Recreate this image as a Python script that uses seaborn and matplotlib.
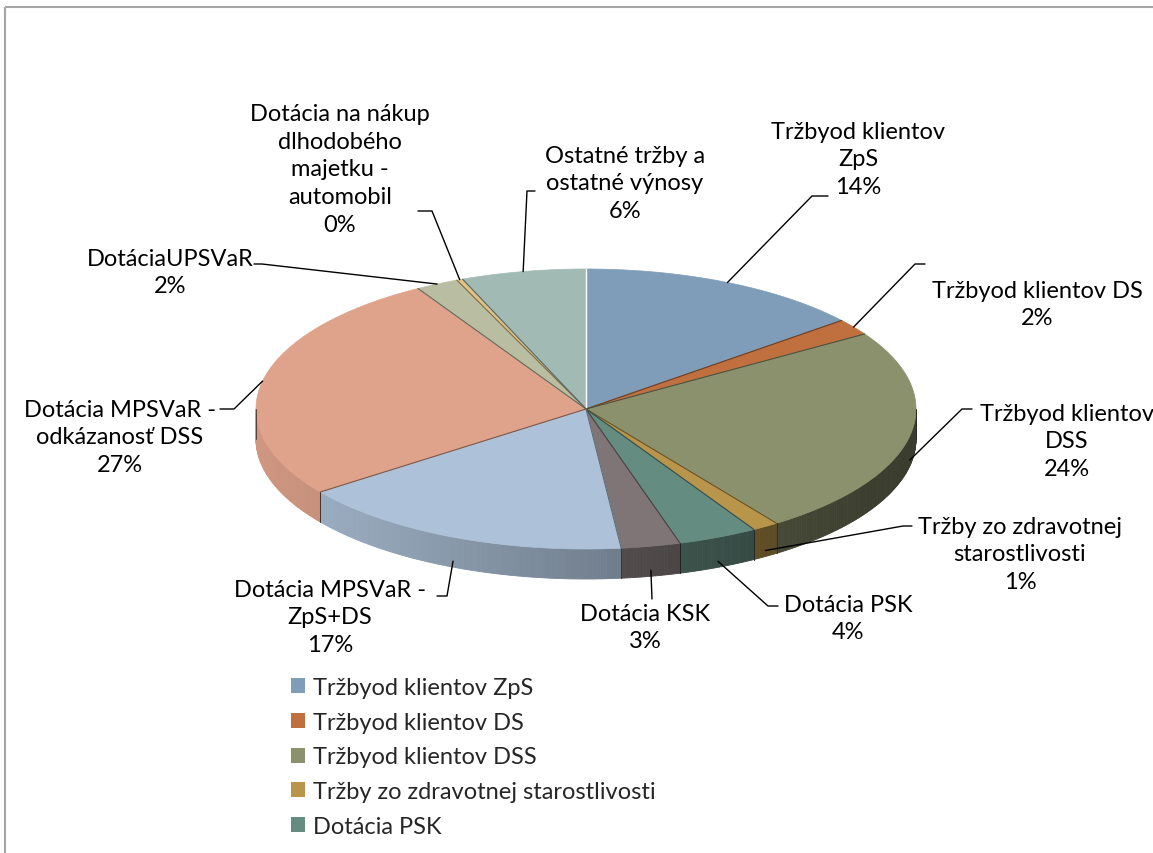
import numpy as np
import matplotlib
matplotlib.use("Agg")
import matplotlib.pyplot as plt
from matplotlib.patches import Polygon, Rectangle
import seaborn as sns

# data (share of income, %), clockwise from 12 o'clock
categories = ["Tržbyod klientov ZpS", "Tržbyod klientov DS", "Tržbyod klientov DSS",
              "Tržby zo zdravotnej starostlivosti", "Dotácia PSK", "Dotácia KSK",
              "Dotácia MPSVaR - ZpS+DS", "Dotácia MPSVaR - odkázanosť DSS",
              "DotáciaUPSVaR", "Dotácia na nákup dlhodobého majetku - automobil",
              "Ostatné tržby a ostatné výnosy"]
shares = [14.1, 1.9, 24.2, 1.3, 3.9, 2.9, 16.6, 26.6, 2.1, 0.3, 6.1]
label_names = ["Tržbyod klientov\nZpS", "Tržbyod klientov DS", "Tržbyod klientov\nDSS",
               "Tržby zo zdravotnej\nstarostlivosti", "Dotácia PSK", "Dotácia KSK",
               "Dotácia MPSVaR -\nZpS+DS", "Dotácia MPSVaR -\nodkázanosť DSS",
               "DotáciaUPSVaR", "Dotácia na nákup\ndlhodobého\nmajetku -\nautomobil",
               "Ostatné tržby a\nostatné výnosy"]
colors = ["#7F9DB9", "#C0703F", "#8C916D", "#B8954A", "#658C80", "#7F7577",
          "#ADC2D8", "#DFA28A", "#B9BEA2", "#E0C282", "#A2BAB4"]
legend_shown = 5

# layout (pixels)
cx, cy, rx, ry, depth = 586, 410, 330, 140, 30
label_pos = [(858, 160), (1037, 305), (1067, 442), (1020, 555), (848, 619), (645, 628),
             (330, 618), (120, 438), (170, 273), (340, 170), (625, 184)]
elbows = [[(812, 197), (828, 197)], [(915, 265), (925, 265)], [(962, 410), (972, 410)],
          [(903, 527), (912, 527)], [(768, 607), (778, 607)], [(652, 600)],
          [(447, 597), (437, 597)], [(234, 410), (220, 410)], [(262, 265), (254, 265)],
          [(432, 212), (418, 212)], [(527, 192), (535, 192)]]

sns.set_theme(style="white")
plt.rcParams['font.family'] = ['Lato', 'DejaVu Sans']
fs = 17

fig = plt.figure(figsize=(11.53, 8.54), dpi=100)
ax = fig.add_axes([0, 0, 1, 1])
ax.set_xlim(0, 1153)
ax.set_ylim(854, 0)
ax.axis('off')

# chart border
ax.add_patch(Rectangle((5, 8), 1200, 900, fill=False, edgecolor='#A6A6A6', lw=1.5))


def pt(deg):
    t = np.radians(deg)
    return cx + rx * np.sin(t), cy - ry * np.cos(t)


def shade(c, f):
    r, g, b = matplotlib.colors.to_rgb(c)
    return (r * f, g * f, b * f)


bounds = np.concatenate([[0], np.cumsum(shares)]) / sum(shares) * 360

# side walls (front half only), with left-to-right darkening
for i, c in enumerate(colors):
    a0, a1 = max(bounds[i], 90), min(bounds[i + 1], 270)
    if a1 <= a0:
        continue
    ang = np.linspace(a0, a1, max(2, int((a1 - a0) * 2)))
    for j in range(len(ang) - 1):
        x0, y0 = pt(ang[j])
        x1, y1 = pt(ang[j + 1])
        t = ((x0 + x1) / 2 - (cx - rx)) / (2 * rx)
        f = max(0.42, 0.93 - 0.55 * t ** 1.1)
        ax.add_patch(Polygon([(x0, y0), (x1, y1), (x1, y1 + depth), (x0, y0 + depth)],
                             closed=True, facecolor=shade(c, f), edgecolor=shade(c, f), lw=0.6))
    for a in (a0, a1):
        x, y = pt(a)
        ax.plot([x, x], [y, y + depth], color=shade(c, 0.3), lw=0.6)

# top faces
for i, c in enumerate(colors):
    ang = np.linspace(bounds[i], bounds[i + 1], max(3, int((bounds[i + 1] - bounds[i]) * 2)))
    pts = [(cx, cy)] + [pt(a) for a in ang]
    ax.add_patch(Polygon(pts, closed=True, facecolor=c, edgecolor=c, lw=0.5))
# radial seams
for i, a in enumerate(bounds[:-1]):
    x, y = pt(a)
    col = 'white' if i == 0 else shade(colors[i], 0.55)
    ax.plot([cx, x], [cy, y], color=col, lw=1.0 if i == 0 else 0.8)

# data labels with leader lines
for i, v in enumerate(shares):
    mid = (bounds[i] + bounds[i + 1]) / 2
    ax_, ay_ = pt(mid)
    if np.cos(np.radians(mid)) < 0:
        ay_ += depth * 0.8
    xs = [ax_] + [p[0] for p in elbows[i]]
    ys = [ay_] + [p[1] for p in elbows[i]]
    ax.plot(xs, ys, color='black', lw=1.0)
    ax.text(label_pos[i][0], label_pos[i][1], f"{label_names[i]}\n{round(v)}%",
            ha='center', va='center', fontsize=fs, linespacing=1.4, color='black')

# legend (only first entries fit in the chart area)
handles = [Rectangle((0, 0), 1, 1, facecolor=c, edgecolor='none') for c in colors[:legend_shown]]
fig.legend(handles, categories[:legend_shown], loc='upper left',
           bbox_to_anchor=(291 / 1153, 1 - 678 / 854), frameon=False, fontsize=fs,
           handlelength=0.6, handleheight=0.6, handletextpad=0.35, labelspacing=0.58,
           borderpad=0, borderaxespad=0)

fig.savefig("out.png", dpi=100)
